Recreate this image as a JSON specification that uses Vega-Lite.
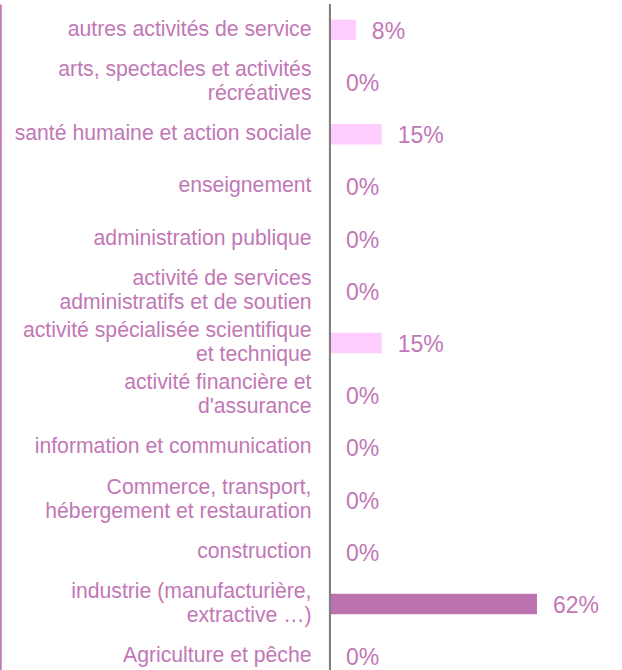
{
  "$schema": "https://vega.github.io/schema/vega-lite/v6.json",
  "width": 336.4,
  "height": 678,
  "padding": {"top": 3, "left": 0, "right": 0, "bottom": 0},
  "background": "white",
  "config": {"view": {"stroke": null}, "font": "Liberation Sans"},
  "data": {"values": [
    {"label": "autres activités de service", "value": 0.0769},
    {"label": "arts, spectacles et activités|récréatives", "value": 0},
    {"label": "santé humaine et action sociale", "value": 0.1538},
    {"label": "enseignement", "value": 0},
    {"label": "administration publique", "value": 0},
    {"label": "activité de services|administratifs et de soutien", "value": 0},
    {"label": "activité spécialisée scientifique|et technique", "value": 0.1538},
    {"label": "activité financière et|d'assurance", "value": 0},
    {"label": "information et communication", "value": 0},
    {"label": "Commerce, transport,|hébergement et restauration", "value": 0},
    {"label": "construction", "value": 0},
    {"label": "industrie (manufacturière,|extractive …)", "value": 0.6154},
    {"label": "Agriculture et pêche", "value": 0}
  ]},
  "encoding": {
    "y": {
      "field": "label", "type": "nominal", "sort": null,
      "scale": {"paddingInner": 0.61, "paddingOuter": 0.3},
      "axis": {
        "title": null, "ticks": false, "grid": false,
        "offset": 330, "domainColor": "#c07ab7", "domainWidth": 2.5,
        "labelPadding": -311, "labelAlign": "right",
        "labelExpr": "split(datum.label, '|')",
        "labelOffset": {"condition": {"test": "indexof(datum.value, '|') >= 0", "value": -12}, "value": 0},
        "labelFontSize": 21.2, "labelLineHeight": 24, "labelColor": "#c277b6",
        "labelLimit": 400, "labelFont": "Liberation Sans"
      }
    }
  },
  "layer": [
    {
      "mark": {"type": "bar"},
      "encoding": {
        "x": {"field": "value", "type": "quantitative", "scale": {"domain": [0, 1]}, "axis": null},
        "color": {"condition": {"test": "datum.value > 0.5", "value": "#bd72b0"}, "value": "#ffccff"}
      }
    },
    {
      "mark": {"type": "rule", "color": "#808080", "strokeWidth": 2},
      "encoding": {"x": {"datum": 0, "type": "quantitative"}, "y": null}
    },
    {
      "mark": {"type": "text", "align": "left", "baseline": "middle", "dx": 16, "dy": 2, "fontSize": 23, "color": "#c277b6", "font": "Liberation Sans"},
      "encoding": {
        "x": {"field": "value", "type": "quantitative"},
        "text": {"field": "value", "type": "quantitative", "format": ".0%"}
      }
    }
  ]
}
